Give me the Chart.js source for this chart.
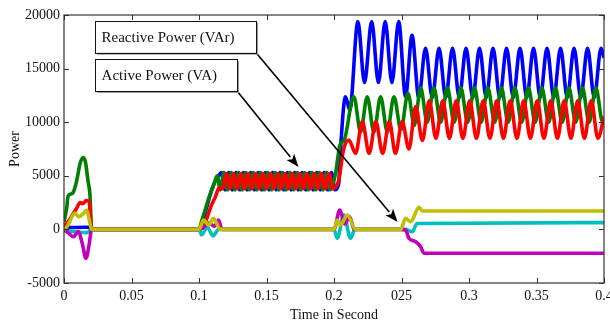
<!DOCTYPE html>
<html><head><meta charset="utf-8">
<script src="https://cdn.jsdelivr.net/npm/chart.js@4.4.1/dist/chart.umd.min.js"></script>
<style>html,body{margin:0;padding:0;background:#fff}</style>
</head><body>
<canvas id="c" width="610" height="323"></canvas>
<script>
// ---- tick labels ----
const xTickLabels = ['0','0.05','0.1','0.15','0.2','025','0.3','0.35','0.4'];
const yTickLabels = ['-5000','0','5000','10000','15000','20000'];

// ---- series (time in s, power) ----
const blueT = [0,0.015,0.0195,0.021,0.1,0.103,0.106,0.109,0.112,0.1145,
 0.1166,0.1193,0.122,0.1247,0.1275,0.1302,0.1329,0.1356,0.1383,0.141,0.1438,0.1465,0.1492,0.1519,0.1546,0.1573,
 0.1601,0.1628,0.1655,0.1682,0.1709,0.1736,0.1764,0.1791,0.1818,0.1845,0.1873,0.19,0.1927,0.1954,0.1981,0.2008,
 0.2035,0.2048,0.2085,0.2117,0.2177,0.2226,0.2279,0.2329,0.2379,0.2429,0.2479,0.253,0.2578,0.2628,0.2678,0.2728,
 0.2778,0.2828,0.2878,0.2928,0.2978,0.3028,0.3078,0.3128,0.3178,0.3228,0.3278,0.3328,0.3378,0.3428,0.3478,0.3528,
 0.3578,0.3628,0.3678,0.3728,0.3778,0.3828,0.3878,0.3928,0.3978,0.4];
const blueV = [150,200,200,0,0,900,2200,3500,4500,5000,
 5300,3700,5300,3700,5300,3700,5300,3700,5300,3700,5300,3700,5300,3700,5300,3700,
 5300,3700,5300,3700,5300,3700,5300,3700,5300,3700,5300,3700,5300,3700,5300,3700,
 4300,7400,12380,11140,19380,13700,19380,13700,19380,13700,19380,12400,18100,12300,16900,12300,
 16900,12300,16900,12300,16900,12300,16900,12300,16900,12300,16900,12300,16900,12300,16900,12300,
 16900,12300,16900,12300,16900,12300,16900,12300,16900,16000];

const greenT = [0,0.002,0.003,0.005,0.007,0.0095,0.012,0.0143,0.016,0.0178,0.0192,0.0205,
 0.1,0.102,0.105,0.108,0.111,0.1135,
 0.1157,0.1184,0.1211,0.1239,0.1266,0.1293,0.132,0.1347,0.1374,0.1402,0.1429,0.1456,0.1483,0.151,0.1537,0.1565,
 0.1592,0.1619,0.1646,0.1673,0.17,0.1728,0.1755,0.1782,0.1809,0.1837,0.1864,0.1891,0.1918,0.1945,0.1972,
 0.2011,0.2045,0.2075,0.2147,0.2197,0.2246,0.2296,0.2345,0.2395,0.2444,0.2496,0.2548,0.2595,0.2642,0.269,
 0.274,0.279,0.284,0.289,0.294,0.299,0.304,0.309,0.314,0.319,0.324,0.329,0.334,0.339,0.344,0.349,
 0.354,0.359,0.364,0.369,0.374,0.379,0.384,0.389,0.394,0.399,0.4];
const greenV = [700,2000,3100,3300,3500,4600,6200,6700,6200,4500,3300,0,
 0,800,2000,3200,4200,5000,
 3700,5300,3700,5300,3700,5300,3700,5300,3700,5300,3700,5300,3700,5300,3700,5300,
 3700,5300,3700,5300,3700,5300,3700,5300,3700,5300,3700,5300,3700,5300,3700,
 5200,7900,8300,12380,9100,12380,9100,12380,9100,12380,9300,12700,9700,13200,10000,
 13200,10000,13200,10000,13200,10000,13200,10000,13200,10000,13200,10000,13200,10000,13200,10000,
 13200,10000,13200,10000,13200,10000,13200,10000,13200,10000,10100];

const redT = [0,0.003,0.006,0.009,0.012,0.014,0.0165,0.0185,0.0205,
 0.1,0.103,0.106,0.109,0.112,0.115,
 0.1175,0.1202,0.1229,0.1257,0.1284,0.1311,0.1338,0.1365,0.1392,0.142,0.1447,0.1474,0.1501,0.1528,0.1555,0.1583,
 0.161,0.1637,0.1664,0.1691,0.1718,0.1746,0.1773,0.18,0.1827,0.1855,0.1882,0.1909,0.1936,0.1963,0.199,
 0.2035,0.207,0.211,0.216,0.221,0.226,0.231,0.236,0.241,0.2455,0.2505,0.2555,0.2605,0.2655,0.2705,0.2755,
 0.2805,0.2855,0.2905,0.2955,0.3005,0.3055,0.3105,0.3155,0.3205,0.3255,0.3305,0.3355,0.3405,0.3455,0.3505,0.3555,
 0.3605,0.3655,0.3705,0.3755,0.3805,0.3855,0.3905,0.3955,0.4];
const redV = [300,700,1300,1900,2500,2400,2700,2600,0,
 0,200,1100,2200,3000,3900,
 3800,5200,3800,5200,3800,5200,3800,5200,3800,5200,3800,5200,3800,5200,3800,5200,
 3800,5200,3800,5200,3800,5200,3800,5200,3800,5200,3800,5200,3800,5200,3800,
 4600,7400,8340,7100,10050,7100,10050,7100,10050,7100,10050,7500,11450,8300,12000,8500,
 12000,8500,12000,8500,12000,8500,12000,8500,12000,8500,12000,8500,12000,8500,12000,8500,
 12000,8500,12000,8500,12000,8500,12000,8500,10500];

const yellowT = [0,0.003,0.006,0.008,0.011,0.0145,0.0168,0.0185,0.0205,
 0.1,0.1034,0.107,0.1108,0.1158,0.2,0.2024,0.2048,0.2098,0.216,
 0.2494,0.253,0.2568,0.263,0.2655,0.4];
const yellowV = [0,400,1200,1530,1190,1500,1800,1000,0,
 0,880,410,1030,0,0,880,410,1340,0,
 0,1030,720,2060,1720,1720];

const magentaT = [0,0.003,0.007,0.0106,0.0135,0.0163,0.0185,0.0205,
 0.1,0.1035,0.107,0.1115,0.1145,0.117,0.2,0.2043,0.208,0.2115,0.215,
 0.2494,0.253,0.2555,0.2605,0.2642,0.2667,0.4];
const magentaV = [0,-300,-680,-210,-1300,-2700,-1500,0,
 0,200,600,300,880,0,0,1810,500,1200,0,
 0,-60,-830,-1150,-1610,-2230,-2230];

const cyanT = [0,0.005,0.01,0.017,0.0205,
 0.1,0.102,0.106,0.1105,0.1145,0.2,0.2024,0.2073,0.2122,0.2155,
 0.2494,0.253,0.258,0.2615,0.4];
const cyanV = [0,-150,-250,-300,0,
 0,-500,200,-600,0,0,-830,1340,-830,0,
 0,0,-210,550,630];

function pts(t, v) { return t.map((x, i) => ({x: x, y: v[i]})); }

// ---- annotations (data coordinates) ----
const notes = [
  {text: 'Reactive Power (VAr)', x0: 0.023, x1: 0.1423, yTop: 19470, yBot: 16480, tipX: 0.2471, tipY: 690},
  {text: 'Active Power (VA)',    x0: 0.023, x1: 0.1282, yTop: 15870, yBot: 12910, tipX: 0.1737, tipY: 5820}
];

const SERIF = '"Liberation Serif", "Times New Roman", serif';

const framePlugin = {
  id: 'frame',
  afterDatasetsDraw(chart) {
    const {ctx, chartArea: a, scales: {x, y}} = chart;
    ctx.save();
    ctx.strokeStyle = '#333';
    ctx.lineWidth = 1.2;
    ctx.strokeRect(a.left, a.top, a.right - a.left, a.bottom - a.top);
    const tl = 5;
    ctx.beginPath();
    x.ticks.forEach(t => {
      const px = Math.round(x.getPixelForValue(t.value)) + 0.5;
      ctx.moveTo(px, a.bottom); ctx.lineTo(px, a.bottom - tl);
      ctx.moveTo(px, a.top); ctx.lineTo(px, a.top + tl);
    });
    y.ticks.forEach(t => {
      const py = Math.round(y.getPixelForValue(t.value)) + 0.5;
      ctx.moveTo(a.left, py); ctx.lineTo(a.left + tl, py);
      ctx.moveTo(a.right, py); ctx.lineTo(a.right - tl, py);
    });
    ctx.lineWidth = 1;
    ctx.stroke();

    // annotations
    notes.forEach(n => {
      const l = x.getPixelForValue(n.x0), r = x.getPixelForValue(n.x1);
      const t = y.getPixelForValue(n.yTop), b = y.getPixelForValue(n.yBot);
      const tx = x.getPixelForValue(n.tipX), ty = y.getPixelForValue(n.tipY);
      // arrow
      ctx.strokeStyle = '#000'; ctx.fillStyle = '#000'; ctx.lineWidth = 1.6;
      const ang = Math.atan2(ty - b, tx - r);
      const hl = 13, hw = 5;
      const bx = tx - hl * Math.cos(ang), by = ty - hl * Math.sin(ang);
      ctx.beginPath(); ctx.moveTo(r, b); ctx.lineTo(bx, by); ctx.stroke();
      ctx.beginPath();
      ctx.moveTo(tx, ty);
      ctx.lineTo(bx + hw * Math.sin(ang), by - hw * Math.cos(ang));
      ctx.lineTo(bx + 3 * Math.cos(ang), by + 3 * Math.sin(ang));
      ctx.lineTo(bx - hw * Math.sin(ang), by + hw * Math.cos(ang));
      ctx.closePath(); ctx.fill();
      // box with light shadow
      ctx.fillStyle = '#9a9a9a';
      ctx.fillRect(l + 2, t + 2, r - l, b - t);
      ctx.fillStyle = '#fff';
      ctx.fillRect(l, t, r - l, b - t);
      ctx.strokeStyle = '#111'; ctx.lineWidth = 1;
      ctx.strokeRect(Math.round(l) + 0.5, Math.round(t) + 0.5, Math.round(r - l), Math.round(b - t));
      ctx.fillStyle = '#111';
      ctx.font = '15px ' + SERIF;
      ctx.textBaseline = 'middle';
      ctx.textAlign = 'left';
      ctx.fillText(n.text, l + 6.5, (t + b) / 2 + 1);
    });
    ctx.restore();
  }
};

const lineDs = (label, t, v, color) => ({
  label, data: pts(t, v), borderColor: color, backgroundColor: color,
  borderWidth: 3.6, pointRadius: 0, fill: false, cubicInterpolationMode: 'monotone'
});

new Chart(document.getElementById('c'), {
  type: 'line',
  data: {
    datasets: [
      lineDs('yellow', yellowT, yellowV, '#bfbf00'),
      lineDs('magenta', magentaT, magentaV, '#bf00bf'),
      lineDs('cyan', cyanT, cyanV, '#00bfbf'),
      lineDs('red', redT, redV, '#ff0000'),
      lineDs('green', greenT, greenV, '#008000'),
      lineDs('blue', blueT, blueV, '#0000ff')
    ]
  },
  options: {
    responsive: false, animation: false, devicePixelRatio: 1,
    layout: {padding: {left: 0, right: 6, top: 15, bottom: 0}},
    plugins: {legend: {display: false}, tooltip: {enabled: false}},
    scales: {
      x: {
        type: 'linear', min: 0, max: 0.4,
        grid: {display: false, drawTicks: false}, border: {display: false},
        ticks: {stepSize: 0.05, padding: 5, color: '#111', autoSkip: false, maxRotation: 0,
          font: {family: SERIF, size: 14},
          callback: v => xTickLabels[Math.round(v / 0.05)]},
        title: {display: true, text: 'Time in Second', color: '#111',
          font: {family: SERIF, size: 14}, padding: {top: 0, bottom: -1}},
        afterFit(s) { s.height = 40; s.paddingLeft = 0; s.paddingRight = 0; }
      },
      y: {
        min: -5000, max: 20000,
        grid: {display: false, drawTicks: false}, border: {display: false},
        ticks: {stepSize: 5000, padding: 4, color: '#111',
          font: {family: SERIF, size: 14},
          callback: v => yTickLabels[Math.round((v + 5000) / 5000)]},
        title: {display: true, text: 'Power', color: '#111',
          font: {family: SERIF, size: 14}, padding: {top: 7, bottom: 0}},
        afterFit(s) { s.width = 64; s.paddingTop = 0; s.paddingBottom = 0; }
      }
    }
  },
  plugins: [framePlugin]
});
</script>
</body></html>
